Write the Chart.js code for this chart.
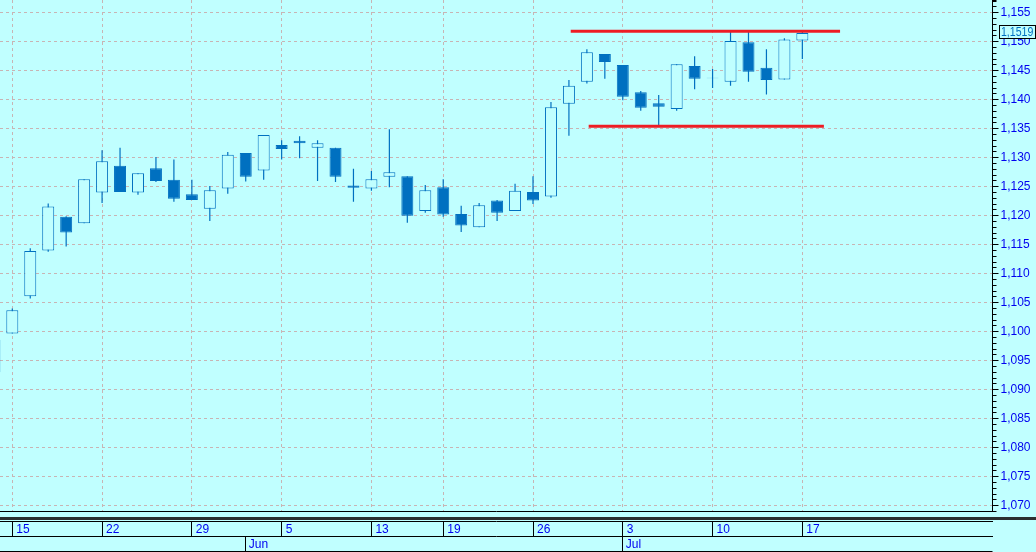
<!DOCTYPE html>
<html>
<head>
<meta charset="utf-8">
<title>EUR/USD daily</title>
<style>
  html, body { margin: 0; padding: 0; background: #c0ffff; }
  canvas { display: block; }
</style>
<script src="https://cdn.jsdelivr.net/npm/chart.js@4.4.1/dist/chart.umd.min.js"></script>
</head>
<body>
<canvas id="chart" width="1036" height="552"></canvas>
<script>
// trading days; the first one is half hidden behind the left edge
const dates = [
  "2017-05-12",
  "2017-05-15", "2017-05-16", "2017-05-17", "2017-05-18", "2017-05-19",
  "2017-05-22", "2017-05-23", "2017-05-24", "2017-05-25", "2017-05-26",
  "2017-05-29", "2017-05-30", "2017-05-31", "2017-06-01", "2017-06-02",
  "2017-06-05", "2017-06-06", "2017-06-07", "2017-06-08", "2017-06-09",
  "2017-06-13", "2017-06-14", "2017-06-15", "2017-06-16",
  "2017-06-19", "2017-06-20", "2017-06-21", "2017-06-22", "2017-06-23",
  "2017-06-26", "2017-06-27", "2017-06-28", "2017-06-29", "2017-06-30",
  "2017-07-03", "2017-07-04", "2017-07-05", "2017-07-06", "2017-07-07",
  "2017-07-10", "2017-07-11", "2017-07-12", "2017-07-13", "2017-07-14",
  "2017-07-17",
];

const opens = [
  1.0934, 1.1001, 1.1065, 1.1144, 1.1202, 1.1191, 1.1244, 1.1290, 1.1244, 1.1286,
  1.1266, 1.1241, 1.1216, 1.1251, 1.1312, 1.1282, 1.1326, 1.1333, 1.1321, 1.1321,
  1.1256, 1.1251, 1.1271, 1.1272, 1.1212, 1.1253, 1.1207, 1.1184, 1.1230, 1.1212,
  1.1245, 1.1237, 1.1397, 1.1435, 1.1483, 1.1464, 1.1417, 1.1398, 1.1388, 1.1462,
  1.1441, 1.1435, 1.1503, 1.1459, 1.1439, 1.1506,
];
const highs = [
  1.0995, 1.1044, 1.1148, 1.1225, 1.1203, 1.1267, 1.1317, 1.1321, 1.1277, 1.1305,
  1.1301, 1.1266, 1.1255, 1.1314, 1.1312, 1.1343, 1.1334, 1.1341, 1.1334, 1.1321,
  1.1285, 1.1281, 1.1353, 1.1272, 1.1257, 1.1267, 1.1221, 1.1226, 1.1231, 1.1259,
  1.1272, 1.1400, 1.1438, 1.1491, 1.1483, 1.1464, 1.1419, 1.1412, 1.1465, 1.1479,
  1.1457, 1.1522, 1.1522, 1.1491, 1.1510, 1.1524,
];
const lows = [
  1.0925, 1.1001, 1.1061, 1.1142, 1.1151, 1.1191, 1.1226, 1.1245, 1.1240, 1.1262,
  1.1228, 1.1231, 1.1195, 1.1242, 1.1263, 1.1266, 1.1301, 1.1303, 1.1264, 1.1262,
  1.1228, 1.1247, 1.1253, 1.1192, 1.1209, 1.1202, 1.1176, 1.1184, 1.1195, 1.1212,
  1.1224, 1.1235, 1.1342, 1.1432, 1.1440, 1.1403, 1.1385, 1.1359, 1.1385, 1.1422,
  1.1424, 1.1428, 1.1435, 1.1413, 1.1439, 1.1474,
];
const closes = [
  1.0990, 1.1041, 1.1143, 1.1220, 1.1175, 1.1267, 1.1298, 1.1245, 1.1277, 1.1264,
  1.1233, 1.1231, 1.1248, 1.1309, 1.1271, 1.1343, 1.1319, 1.1329, 1.1329, 1.1271,
  1.1252, 1.1267, 1.1279, 1.1204, 1.1248, 1.1206, 1.1187, 1.1222, 1.1209, 1.1247,
  1.1230, 1.1391, 1.1428, 1.1486, 1.1469, 1.1409, 1.1390, 1.1392, 1.1465, 1.1440,
  1.1442, 1.1505, 1.1452, 1.1438, 1.1508, 1.1519,
];

// hand drawn red levels (x in bar numbers, bar 0 = 15 May)
const resistanceX = [31.1, 46.1];
const resistanceY = [1.1522, 1.1522];
const supportX = [32.1, 45.2];
const supportY = [1.1358, 1.1358];

const monthNames = ["Jan", "Feb", "Mar", "Apr", "May", "Jun", "Jul", "Aug", "Sep", "Oct", "Nov", "Dec"];

const BG = "#c0ffff";
const CANDLE = "#0070c0";
const GRID = "#c8b4b4";
const TEXT = "#0000f0";
const RED = "#ee1c24";
const FONT = "'Liberation Sans', Arial, sans-serif";

const X_MIN = -0.685;
const X_MAX = 54.59;
const Y_MIN = 1.06948;
const Y_MAX = 1.15759;

const xIndex = dates.map((d, k) => k - 1);

// week and month separators for the date strip
const weekTicks = [];
const weekLabels = [];
const monthTicks = [];
const monthLabels = [];
const dow = dates.map((d) => new Date(d + "T00:00:00Z").getUTCDay());
for (let k = 1; k < dates.length; k++) {
  if (dow[k] <= dow[k - 1]) {
    weekTicks.push(xIndex[k]);
    weekLabels.push(String(+dates[k].slice(8)));
  }
  if (dates[k].slice(5, 7) !== dates[k - 1].slice(5, 7)) {
    monthTicks.push(xIndex[k]);
    monthLabels.push(monthNames[+dates[k].slice(5, 7) - 1]);
  }
}

function isMajor(v) {
  return Math.round(v * 1000) % 5 === 0;
}
function fmt(v, digits) {
  return v.toFixed(digits).replace(".", ",");
}

const minorTicks = {
  id: "minorTicks",
  afterDraw(chart) {
    const s = chart.scales.y;
    const ctx = chart.ctx;
    ctx.save();
    ctx.strokeStyle = "#000";
    ctx.lineWidth = 1;
    ctx.beginPath();
    s.ticks.forEach((t) => {
      if (isMajor(t.value)) return;
      const y = Math.round(s.getPixelForValue(t.value)) + 0.5;
      ctx.moveTo(s.left, y);
      ctx.lineTo(s.left + 4, y);
    });
    ctx.stroke();
    ctx.restore();
  },
};

const frame = {
  id: "frame",
  afterDraw(chart) {
    const ctx = chart.ctx;
    const area = chart.chartArea;
    const m = chart.scales.xMonth;
    ctx.save();
    ctx.fillStyle = "#2b2f2f";
    ctx.fillRect(0, area.bottom + 6, chart.width, 3);
    ctx.fillStyle = "#000";
    ctx.fillRect(area.left, Math.round(m.bottom), area.right - area.left, 1);
    ctx.restore();
  },
};

const priceTag = {
  id: "priceTag",
  afterDraw(chart) {
    const s = chart.scales.y;
    const ctx = chart.ctx;
    const last = closes[closes.length - 1];
    const y = Math.round(s.getPixelForValue(last)) - 1;
    const x = Math.round(s.left) + 6;
    ctx.save();
    ctx.fillStyle = BG;
    ctx.fillRect(x, y - 7, 37, 14);
    ctx.strokeStyle = "#000";
    ctx.lineWidth = 1;
    ctx.strokeRect(x + 0.5, y - 6.5, 36, 13);
    ctx.fillStyle = CANDLE;
    ctx.font = "12px " + FONT;
    ctx.textBaseline = "middle";
    ctx.translate(x + 2, y + 1);
    ctx.scale(0.88, 1);
    ctx.fillText(fmt(last, 4), 0, 0);
    ctx.restore();
  },
};

const tickFont = { family: FONT, size: 12 };

new Chart(document.getElementById("chart"), {
  type: "bar",
  data: {
    datasets: [
      {
        type: "line",
        data: resistanceX.map((x, k) => ({ x, y: resistanceY[k] })),
        borderColor: RED,
        borderWidth: 3,
        pointRadius: 0,
        order: -2,
      },
      {
        type: "line",
        data: supportX.map((x, k) => ({ x, y: supportY[k] })),
        borderColor: RED,
        borderWidth: 3,
        pointRadius: 0,
        order: -1,
      },
      {
        // bodies
        data: xIndex.map((x, k) => ({ x, y: [opens[k], closes[k]] })),
        backgroundColor: opens.map((o, k) => (closes[k] >= o ? BG : CANDLE)),
        borderColor: CANDLE,
        borderWidth: 1,
        borderSkipped: false,
        barThickness: 12,
        grouped: false,
        inflateAmount: 0,
        order: 0,
      },
      {
        // wicks
        data: xIndex.map((x, k) => ({ x, y: [lows[k], highs[k]] })),
        backgroundColor: CANDLE,
        borderWidth: 0,
        barThickness: 1.2,
        grouped: false,
        inflateAmount: 0,
        order: 1,
      },
    ],
  },
  options: {
    responsive: false,
    animation: false,
    devicePixelRatio: 1,
    layout: { padding: { left: 0, right: 0, top: 0, bottom: 1 } },
    plugins: {
      legend: { display: false },
      tooltip: { enabled: false },
    },
    scales: {
      xGap: {
        type: "linear",
        position: "bottom",
        weight: 0,
        min: X_MIN,
        max: X_MAX,
        bounds: "data",
        offset: false,
        ticks: { display: false },
        grid: { display: true, offset: false, drawOnChartArea: false, drawTicks: false, color: "rgba(0,0,0,0)" },
        border: { display: true, color: "#000", width: 1 },
        afterFit: (s) => {
          s.height = 10;
          s.paddingLeft = 0;
          s.paddingRight = 0;
        },
      },
      x: {
        type: "linear",
        position: "bottom",
        weight: 1,
        min: X_MIN,
        max: X_MAX,
        bounds: "data",
        offset: false,
        afterBuildTicks: (s) => {
          s.ticks = weekTicks.map((v) => ({ value: v }));
        },
        afterFit: (s) => {
          s.height = 15;
          s.paddingLeft = 0;
          s.paddingRight = 0;
        },
        grid: {
          offset: false,
          color: GRID,
          lineWidth: 1,
          drawOnChartArea: true,
          drawTicks: true,
          tickLength: 15,
          tickColor: "#000",
          tickWidth: 1,
        },
        border: { display: true, color: "#000", width: 1, dash: [3, 3] },
        ticks: {
          autoSkip: false,
          maxRotation: 0,
          minRotation: 0,
          align: "start",
          labelOffset: 4,
          padding: -14,
          color: TEXT,
          font: tickFont,
          callback: (v, i) => weekLabels[i],
        },
      },
      xMonth: {
        type: "linear",
        position: "bottom",
        weight: 2,
        min: X_MIN,
        max: X_MAX,
        bounds: "data",
        offset: false,
        afterBuildTicks: (s) => {
          s.ticks = monthTicks.map((v) => ({ value: v }));
        },
        afterFit: (s) => {
          s.height = 15;
          s.paddingLeft = 0;
          s.paddingRight = 0;
        },
        grid: {
          offset: false,
          drawOnChartArea: false,
          drawTicks: true,
          tickLength: 15,
          tickColor: "#000",
          tickWidth: 1,
        },
        border: { display: true, color: "#000", width: 1 },
        ticks: {
          autoSkip: false,
          maxRotation: 0,
          minRotation: 0,
          align: "start",
          labelOffset: 3,
          padding: -14,
          color: TEXT,
          font: tickFont,
          callback: (v, i) => monthLabels[i],
        },
      },
      y: {
        type: "linear",
        position: "right",
        min: Y_MIN,
        max: Y_MAX,
        bounds: "data",
        afterFit: (s) => {
          s.width = 43.5;
          s.paddingTop = 0;
          s.paddingBottom = 0;
        },
        grid: {
          color: (c) => (c.tick && isMajor(c.tick.value) ? GRID : "rgba(0,0,0,0)"),
          tickColor: (c) => (c.tick && isMajor(c.tick.value) ? "#000" : "rgba(0,0,0,0)"),
          tickLength: 6,
          tickWidth: 1,
          lineWidth: 1,
        },
        border: { display: true, color: "#000", width: 1, dash: [3, 3] },
        ticks: {
          stepSize: 0.001,
          autoSkip: false,
          includeBounds: false,
          padding: 2,
          color: TEXT,
          font: tickFont,
          callback: (v) => (isMajor(v) ? fmt(v, 3) : ""),
        },
      },
    },
  },
  plugins: [minorTicks, frame, priceTag],
});
</script>
</body>
</html>
